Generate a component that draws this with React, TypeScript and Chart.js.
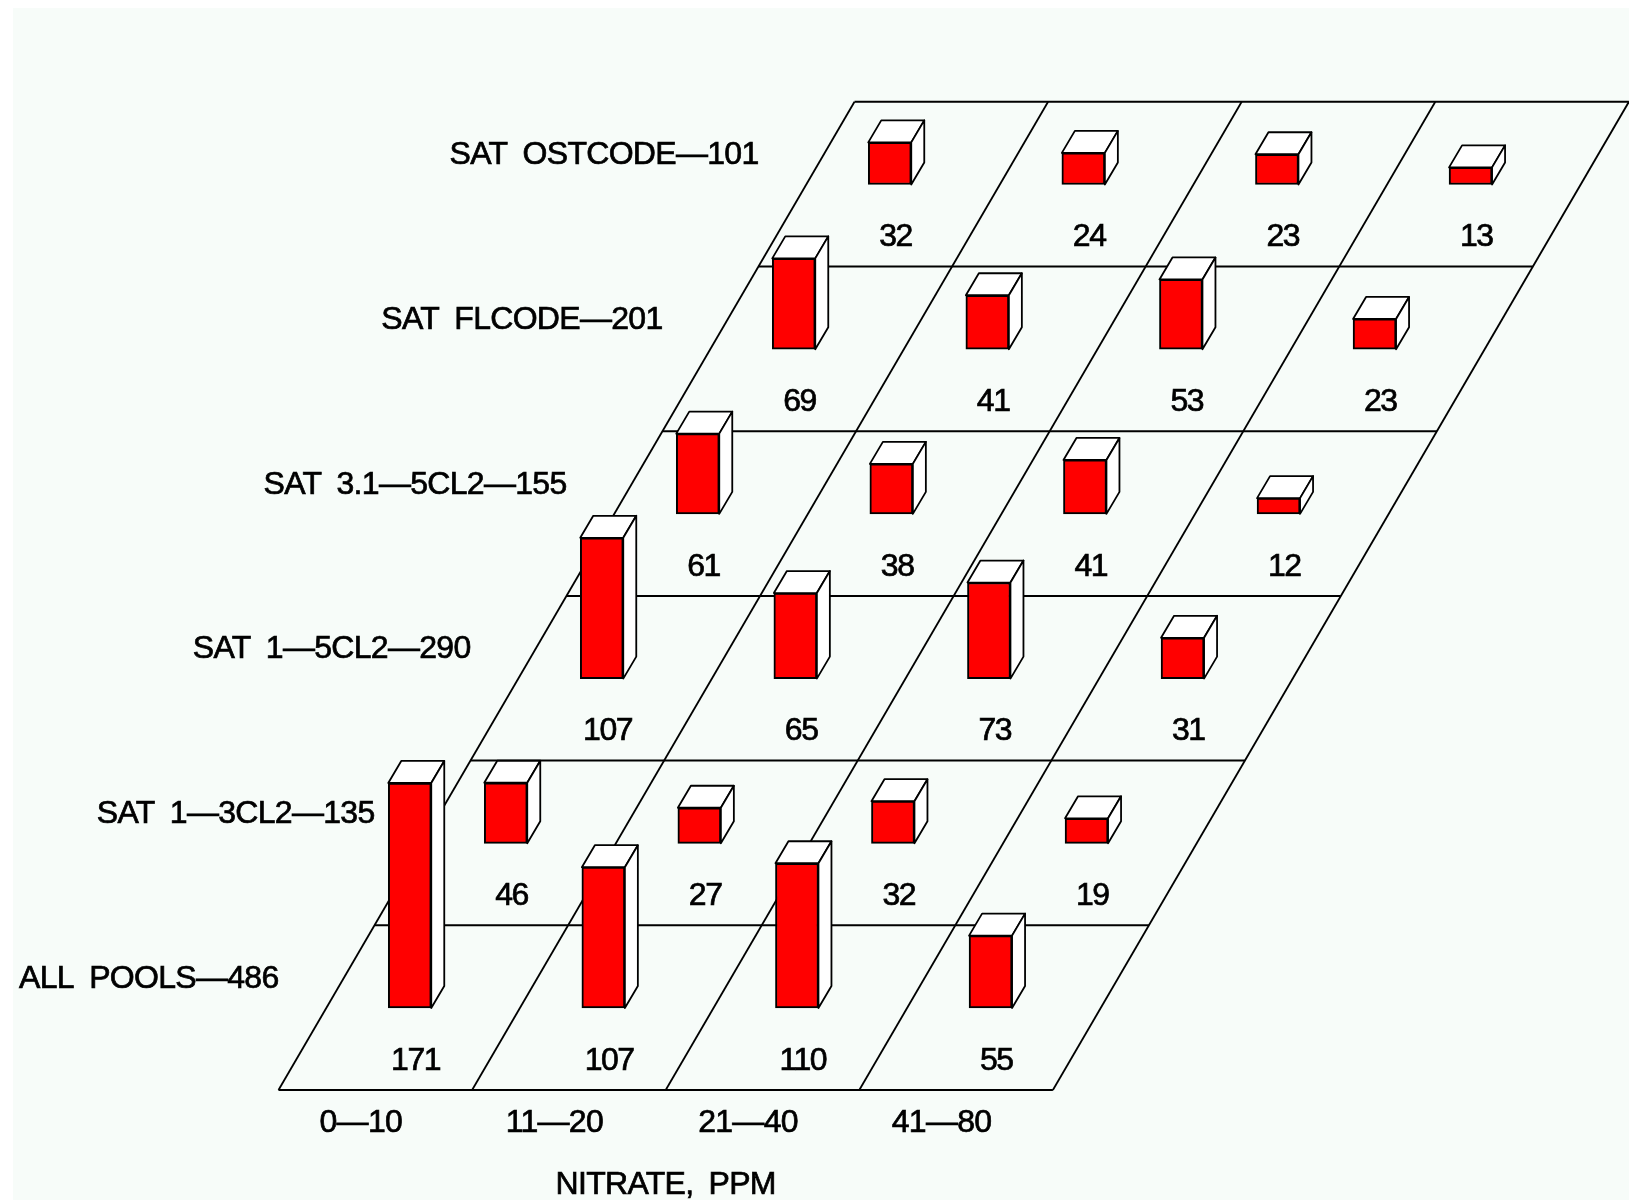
import React, { useEffect, useRef } from "react";
import { Chart, registerables } from "chart.js";

Chart.register(...registerables);

// Data, front row first
const rowLabels = [
  "ALL POOLS—486",
  "SAT 1—3CL2—135",
  "SAT 1—5CL2—290",
  "SAT 3.1—5CL2—155",
  "SAT FLCODE—201",
  "SAT OSTCODE—101",
];
const nitrateBins = ["0—10", "11—20", "21—40", "41—80"];
const allPools = [171, 107, 110, 55];
const sat13 = [46, 27, 32, 19];
const sat15 = [107, 65, 73, 31];
const sat315 = [61, 38, 41, 12];
const satFl = [69, 41, 53, 23];
const satOst = [32, 24, 23, 13];
const rowValues = [allPools, sat13, sat15, sat315, satFl, satOst];
const axisTitle = "NITRATE, PPM";

// Oblique projection, in scale units
const W = 1616;
const H = 1192;
const PX_PER_COL = 193.6;
const PX_PER_COUNT = 1.316;
const ROW_SHIFT = 96 / PX_PER_COL; // columns per row
const ROW_DEPTH = 164.7 / PX_PER_COUNT; // counts per row
const BAR_X = 0.678;
const BAR_LIFT = 82 / PX_PER_COUNT;
const LABEL_X = 0.708;
const LABEL_LIFT = 29 / PX_PER_COUNT;
const ROW_LABEL_LIFT = 111 / PX_PER_COUNT;
const TICK_X = 0.425;
const DEPTH_DX = 13;
const DEPTH_DY = 22;
const AXIS_H = 100;
const X_MIN = -265.5 / PX_PER_COL;
const X_MAX = X_MIN + W / PX_PER_COL;
const Y_MIN = -10 / PX_PER_COUNT;
const Y_MAX = Y_MIN + (H - AXIS_H) / PX_PER_COUNT;
const FONT = "32px 'Liberation Sans'";
const SPACING = "-0.7px";
const VALUE_SPACING = "-1.5px";
const WORD_SPACING = "7px";
const TEXT_STROKE = 0.7;
const INK = "#000000";
const FACE = "#ffffff";
const PAPER = "#f7fcf9";

const rowCount = rowValues.length;
const colCount = nitrateBins.length;

const gridLine = {
  type: "line" as const,
  order: 100,
  borderColor: INK,
  pointRadius: 0,
  tension: 0,
};

const gridDatasets = [
  ...Array.from({ length: rowCount + 1 }, (_, r) => ({
    ...gridLine,
    borderWidth: 2,
    data: [
      { x: r * ROW_SHIFT, y: r * ROW_DEPTH },
      { x: colCount + r * ROW_SHIFT, y: r * ROW_DEPTH },
    ],
  })),
  ...Array.from({ length: colCount + 1 }, (_, c) => ({
    ...gridLine,
    borderWidth: 1.8,
    data: [
      { x: c, y: 0 },
      { x: c + rowCount * ROW_SHIFT, y: rowCount * ROW_DEPTH },
    ],
  })),
];

const barDatasets = rowValues.map((values, r) => ({
  type: "bar" as const,
  label: rowLabels[r],
  order: r + 1,
  grouped: false,
  barThickness: 43,
  backgroundColor: "#ff0000",
  borderColor: INK,
  borderWidth: 2,
  borderSkipped: false,
  data: values.map((v, c) => ({
    x: c + BAR_X + r * ROW_SHIFT,
    y: [r * ROW_DEPTH + BAR_LIFT, r * ROW_DEPTH + BAR_LIFT + v],
  })),
}));

function quad(ctx: CanvasRenderingContext2D, pts: number[][]) {
  ctx.beginPath();
  pts.forEach(([x, y], i) => (i ? ctx.lineTo(x, y) : ctx.moveTo(x, y)));
  ctx.closePath();
  ctx.fill();
  ctx.stroke();
}

function setType(ctx: any, spacing = SPACING) {
  ctx.letterSpacing = spacing;
  ctx.wordSpacing = WORD_SPACING;
}

function label(ctx: CanvasRenderingContext2D, text: string, x: number, y: number) {
  ctx.fillText(text, x, y);
  ctx.strokeText(text, x, y);
}

const boxPlugin = {
  id: "box",
  beforeDraw(chart: any) {
    setType(chart.ctx);
  },
  beforeDatasetDraw(chart: any, args: any) {
    if (args.meta.type !== "bar") return;
    const ctx = chart.ctx;
    ctx.save();
    ctx.fillStyle = FACE;
    ctx.strokeStyle = INK;
    ctx.lineWidth = 1.8;
    ctx.lineJoin = "round";
    args.meta.data.forEach((bar: any) => {
      const { x, y, base, width } = bar.getProps(["x", "y", "base", "width"]);
      const l = x - width / 2;
      const r = x + width / 2;
      quad(ctx, [
        [l, y],
        [r, y],
        [r + DEPTH_DX, y - DEPTH_DY],
        [l + DEPTH_DX, y - DEPTH_DY],
      ]);
      quad(ctx, [
        [r, y],
        [r + DEPTH_DX, y - DEPTH_DY],
        [r + DEPTH_DX, base - DEPTH_DY],
        [r, base],
      ]);
    });
    ctx.restore();
  },
  afterDatasetsDraw(chart: any) {
    const { ctx, scales } = chart;
    const { x: xs, y: ys } = scales;
    ctx.save();
    ctx.font = FONT;
    ctx.fillStyle = INK;
    ctx.strokeStyle = INK;
    ctx.lineWidth = TEXT_STROKE;
    ctx.textBaseline = "middle";
    rowValues.forEach((values, r) => {
      ctx.textAlign = "center";
      setType(ctx, VALUE_SPACING);
      values.forEach((v, c) => {
        label(
          ctx,
          String(v),
          xs.getPixelForValue(c + LABEL_X + r * ROW_SHIFT),
          ys.getPixelForValue(r * ROW_DEPTH + LABEL_LIFT)
        );
      });
      ctx.textAlign = "right";
      setType(ctx);
      label(
        ctx,
        rowLabels[r],
        xs.getPixelForValue(r * ROW_SHIFT),
        ys.getPixelForValue(r * ROW_DEPTH + ROW_LABEL_LIFT)
      );
    });
    ctx.textAlign = "center";
    label(ctx, axisTitle, xs.getPixelForValue(2), chart.chartArea.bottom + 85);
    ctx.restore();
  },
};

export default function App() {
  const ref = useRef<HTMLCanvasElement>(null);
  useEffect(() => {
    const chart = new Chart(ref.current as HTMLCanvasElement, {
      type: "bar",
      data: { datasets: [...barDatasets, ...gridDatasets] as any },
      options: {
        animation: false,
        responsive: false,
        layout: { padding: 0 },
        plugins: { legend: { display: false }, tooltip: { enabled: false } },
        scales: {
          x: {
            type: "linear",
            offset: false,
            min: X_MIN,
            max: X_MAX,
            grid: { display: false, drawTicks: false },
            border: { display: false },
            afterBuildTicks: (scale: any) => {
              scale.ticks = nitrateBins.map((_, c) => ({ value: c + TICK_X }));
            },
            afterFit: (scale: any) => {
              scale.height = AXIS_H;
            },
            ticks: {
              autoSkip: false,
              maxRotation: 0,
              padding: 4,
              color: INK,
              textStrokeColor: INK,
              textStrokeWidth: TEXT_STROKE,
              font: { family: "'Liberation Sans'", size: 32 },
              callback: (_v: any, i: number) => nitrateBins[i],
            },
          },
          y: { type: "linear", display: false, min: Y_MIN, max: Y_MAX },
        },
      } as any,
      plugins: [boxPlugin],
    });
    return () => chart.destroy();
  }, []);
  return (
    <div
      style={{
        position: "absolute",
        left: 13,
        top: 8,
        width: W,
        height: H,
        background: PAPER,
        overflow: "hidden",
      }}
    >
      <canvas ref={ref} width={W} height={H} style={{ display: "block" }} />
    </div>
  );
}
